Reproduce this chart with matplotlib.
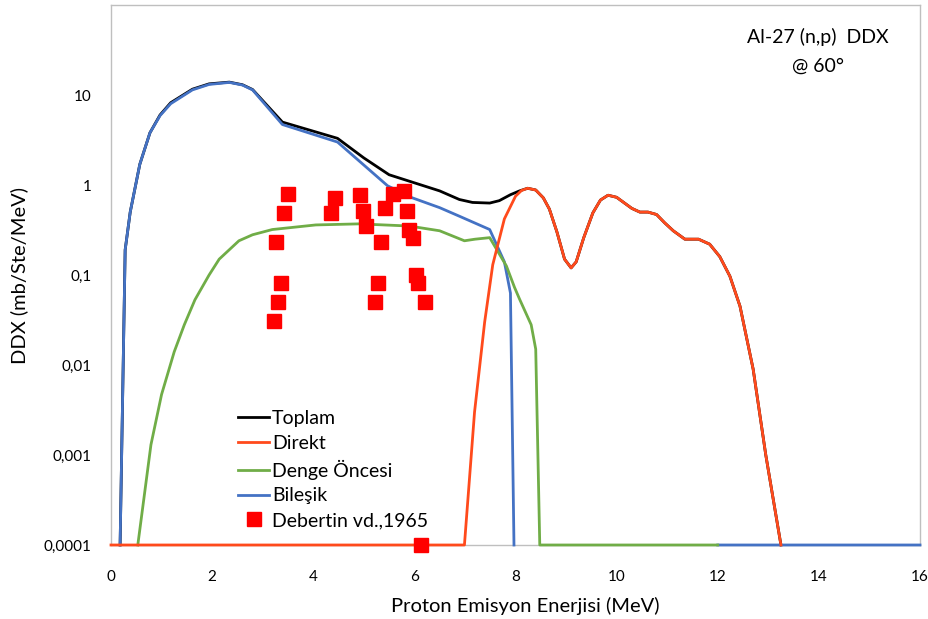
import numpy as np
import matplotlib
matplotlib.use("Agg")
import matplotlib.pyplot as plt

plt.rcParams['font.family'] = ['Lato', 'DejaVu Sans']

FLOOR = 1e-4

# Toplam (siyah)
toplam_x = [0.18, 0.28, 0.38, 0.57, 0.77, 0.97, 1.18, 1.61, 1.94, 2.34, 2.6, 2.8, 3.39, 4.48, 5.0, 5.5,
            6.5, 6.89, 7.15, 7.49, 7.68, 7.9, 8.08, 8.24, 8.4, 8.55, 8.67, 8.82, 8.97, 9.10, 9.2, 9.35,
            9.53, 9.68, 9.83, 10.0, 10.3, 10.46, 10.62, 10.79, 10.95, 11.12, 11.35, 11.5, 11.62, 11.84,
            12.04, 12.24, 12.44, 12.70, 12.95, 13.25]
toplam_y = [FLOOR, 0.19, 0.5, 1.7, 3.8, 6.0, 8.2, 11.6, 13.3, 13.9, 13.0, 11.5, 5.0, 3.3, 2.0, 1.3,
            0.86, 0.69, 0.64, 0.63, 0.67, 0.78, 0.86, 0.92, 0.88, 0.72, 0.54, 0.30, 0.15, 0.12, 0.14, 0.26,
            0.49, 0.68, 0.77, 0.73, 0.55, 0.50, 0.50, 0.47, 0.38, 0.31, 0.25, 0.25, 0.25, 0.22,
            0.16, 0.097, 0.045, 0.009, 0.001, FLOOR]

# Direkt (turuncu)
direkt_x = [0.0, 6.99, 7.19, 7.39, 7.55, 7.78, 8.0, 8.12, 8.24, 8.4, 8.55, 8.67, 8.82, 8.97, 9.10, 9.2,
            9.35, 9.53, 9.68, 9.83, 10.0, 10.3, 10.46, 10.62, 10.79, 10.95, 11.12, 11.35, 11.5, 11.62,
            11.84, 12.04, 12.24, 12.44, 12.70, 12.95, 13.25]
direkt_y = [FLOOR, FLOOR, 0.003, 0.03, 0.13, 0.42, 0.75, 0.87, 0.92, 0.88, 0.72, 0.54, 0.30, 0.15, 0.12, 0.14,
            0.26, 0.49, 0.68, 0.77, 0.73, 0.55, 0.50, 0.50, 0.47, 0.38, 0.31, 0.25, 0.25, 0.25,
            0.22, 0.16, 0.097, 0.045, 0.009, 0.001, FLOOR]

# Denge Öncesi (yeşil)
denge_x = [0.53, 0.79, 1.0, 1.25, 1.45, 1.66, 1.94, 2.14, 2.53, 2.8, 3.19, 4.05, 4.91, 5.90, 6.5,
           6.99, 7.2, 7.49, 7.82, 7.98, 8.08, 8.31, 8.40, 8.48, 12.0]
denge_y = [FLOOR, 0.0013, 0.0047, 0.014, 0.028, 0.053, 0.10, 0.15, 0.24, 0.28, 0.32, 0.36, 0.37, 0.35, 0.31,
           0.24, 0.25, 0.26, 0.126, 0.073, 0.054, 0.028, 0.015, FLOOR, FLOOR]

# Bileşik (mavi)
bilesik_x = [0.18, 0.28, 0.38, 0.57, 0.77, 0.97, 1.18, 1.61, 1.94, 2.34, 2.6, 2.8, 3.39, 4.48, 5.47,
             5.93, 6.5, 6.89, 7.49, 7.78, 7.90, 7.97, 10.0, 12.0, 16.0]
bilesik_y = [FLOOR, 0.19, 0.5, 1.7, 3.8, 5.9, 8.0, 11.4, 13.1, 13.8, 12.9, 11.4, 4.7, 3.0, 0.98,
             0.73, 0.56, 0.45, 0.32, 0.14, 0.063, FLOOR, np.nan, FLOOR, FLOOR]

# Debertin vd., 1965
deb_x = [3.51, 3.43, 3.27, 3.36, 3.31, 3.22, 4.43, 4.36, 4.92, 4.98, 5.05, 5.34, 5.29, 5.23,
         5.41, 5.58, 5.79, 5.85, 5.90, 5.97, 6.03, 6.08, 6.21, 6.13]
deb_y = [0.80, 0.49, 0.23, 0.081, 0.050, 0.031, 0.71, 0.49, 0.77, 0.52, 0.35, 0.23, 0.081, 0.050,
         0.55, 0.79, 0.85, 0.52, 0.32, 0.26, 0.10, 0.081, 0.050, FLOOR]

xticks = [0, 2, 4, 6, 8, 10, 12, 14, 16]
yticks = [1e-4, 1e-3, 1e-2, 1e-1, 1, 10]
ytick_labels = ["0,0001", "0,001", "0,01", "0,1", "1", "10"]

fig = plt.figure(figsize=(9.29, 6.19), dpi=100)
ax = fig.add_axes([111 / 929, 1 - 545 / 619, 809 / 929, 540 / 619])

l_top, = ax.plot(toplam_x, toplam_y, color="black", lw=2, zorder=2, clip_on=False, label="Toplam")
l_bil, = ax.plot(bilesik_x, bilesik_y, color="#4472C4", lw=2, zorder=3, clip_on=False, label="Bileşik")
l_den, = ax.plot(denge_x, denge_y, color="#70AD47", lw=2, zorder=4, clip_on=False, label="Denge Öncesi")
l_dir, = ax.plot(direkt_x, direkt_y, color="#FF4A1C", lw=2, zorder=5, clip_on=False, label="Direkt")
l_deb, = ax.plot(deb_x, deb_y, ls="none", marker="s", ms=10, color="#FF0000", zorder=6,
                 clip_on=False, label="Debertin vd.,1965")

ax.set_yscale("log")
ax.set_xlim(0, 16)
ax.set_ylim(1e-4, 100)
ax.set_xticks(xticks)
ax.set_xticklabels([str(t) for t in xticks])
ax.set_yticks(yticks)
ax.set_yticklabels(ytick_labels)
ax.minorticks_off()
ax.tick_params(axis="both", length=0, labelsize=11, colors="#000000")
ax.tick_params(axis="x", pad=18)
ax.tick_params(axis="y", pad=14)
for s in ax.spines.values():
    s.set_color("#BFBFBF")
    s.set_linewidth(1)

ax.set_xlabel("Proton Emisyon Enerjisi (MeV)", fontsize=14.5, labelpad=9)
ax.xaxis.label.set_x(0.512)
ax.set_ylabel("DDX (mb/Ste/MeV)", fontsize=14.5, labelpad=11)

ax.text(0.874, 0.958, "Al-27 (n,p)  DDX\n@ 60°", transform=ax.transAxes, ha="center", va="top",
        fontsize=14, linespacing=1.85)

ax.legend(handles=[l_top, l_dir, l_den, l_bil, l_deb], loc="upper left",
          bbox_to_anchor=(238 / 929, 1 - 410 / 619), bbox_transform=fig.transFigure,
          frameon=False, fontsize=14, handlelength=1.6, handletextpad=0.15,
          labelspacing=0.4, borderpad=0, borderaxespad=0)

fig.savefig("out.png", dpi=100)
